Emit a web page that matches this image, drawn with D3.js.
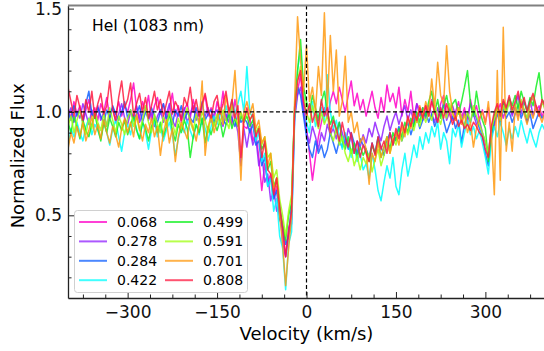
<!DOCTYPE html>
<html>
<head>
<meta charset="utf-8">
<script src="https://cdn.jsdelivr.net/npm/d3@7"></script>
<style>
  body { margin: 0; background: #fff; }
  svg { display: block; font-family: "DejaVu Sans", sans-serif; }
</style>
</head>
<body>
<svg id="chart"></svg>
<script>
// velocity grid of the spectra, km/s
const velocity = d3.range(-400, 401, 5);

const phases = ["0.068", "0.278", "0.284", "0.422", "0.499", "0.591", "0.701", "0.808"];
const colours = ["#ff00c8", "#9020ff", "#1060ff", "#00ffff", "#10f020", "#a0ff10", "#ff9a10", "#ff1a40"];

const xTicks = [-300, -150, 0, 150, 300];
const xMinor = [-375, -337.5, -262.5, -225, -187.5, -112.5, -75, -37.5, 37.5, 75, 112.5, 187.5, 225, 262.5, 337.5, 375];
const yTicks = [0.5, 1.0, 1.5];
const yMinor = [0.2, 0.3, 0.4, 0.6, 0.7, 0.8, 0.9, 1.1, 1.2, 1.3, 1.4];

const flux068 = [
  1.02, 0.97, 1.05, 0.99, 1.03, 0.95, 1.01, 1.06, 0.98, 1.02,
  0.96, 1.04, 1.00, 1.07, 0.97, 1.02, 0.99, 1.05, 0.98, 1.03,
  1.00, 1.06, 1.14, 1.02, 0.97, 1.05, 1.00, 1.08, 0.96, 1.03,
  1.07, 0.99, 1.04, 0.96, 1.02, 1.09, 0.98, 1.03, 0.95, 1.01,
  1.04, 0.97, 1.06, 1.00, 0.95, 1.03, 1.08, 0.98, 1.02, 0.96,
  1.05, 0.99, 1.10, 0.96, 1.02, 0.94, 1.06, 0.98, 1.00, 0.93,
  0.92, 0.97, 0.86, 0.90, 0.78, 0.62, 0.75, 0.66, 0.70, 0.58,
  0.64, 0.50, 0.42, 0.30, 0.44, 0.48, 0.98, 1.10, 1.18, 1.02,
  0.92, 0.80, 0.67, 0.78, 0.88, 0.95, 1.02, 0.97, 1.05, 1.10,
  1.04, 1.12, 1.06, 1.00, 1.08, 1.15, 1.03, 1.09, 1.01, 1.06,
  0.98, 1.04, 1.10, 1.02, 0.97, 1.07, 1.00, 1.13, 1.05, 1.09,
  1.02, 1.12, 0.98, 1.06, 1.00, 1.10, 0.97, 1.04, 1.01, 0.96,
  1.03, 0.98, 1.06, 1.00, 0.95, 1.04, 1.08, 0.99, 1.02, 0.96,
  1.00, 1.05, 0.97, 1.02, 0.94, 1.06, 0.99, 1.03, 0.96, 1.01,
  0.95, 1.02, 0.88, 0.93, 1.00, 1.04, 0.97, 1.02, 1.06, 0.99,
  1.03, 0.98, 1.05, 1.01, 0.96, 1.04, 1.07, 1.00, 1.03, 0.98,
  1.01
];
const flux278 = [
  0.98, 1.02, 0.95, 1.00, 0.97, 1.04, 0.99, 0.94, 1.01, 0.97,
  1.03, 0.96, 1.00, 0.93, 0.98, 1.02, 0.95, 0.99, 1.04, 0.97,
  0.94, 1.00, 0.97, 1.03, 0.95, 0.99, 1.02, 0.96, 1.00, 0.93,
  0.98, 1.01, 0.95, 0.99, 1.04, 0.96, 0.93, 1.00, 0.97, 1.02,
  0.95, 0.99, 1.03, 0.96, 1.00, 0.94, 0.98, 1.02, 0.95, 0.99,
  1.01, 0.96, 0.93, 0.99, 0.95, 1.02, 0.97, 0.90, 0.74, 0.92,
  0.83, 0.92, 0.84, 0.88, 0.74, 0.80, 0.66, 0.70, 0.57, 0.63,
  0.52, 0.56, 0.36, 0.30, 0.40, 0.46, 0.96, 1.08, 1.12, 1.00,
  0.90, 0.85, 0.93, 0.88, 0.82, 0.90, 0.86, 0.94, 0.89, 0.92,
  0.87, 0.95, 0.90, 0.84, 0.92, 0.88, 0.80, 0.86, 0.83, 0.89,
  0.85, 0.92, 0.88, 0.95, 0.90, 0.86, 0.93, 0.98, 0.91, 0.96,
  1.00, 0.94, 0.99, 1.03, 0.96, 1.01, 0.95, 1.04, 0.98, 1.02,
  0.97, 1.03, 0.99, 0.95, 1.02, 0.98, 1.05, 0.96, 1.00, 1.03,
  0.98, 1.02, 0.95, 1.00, 0.97, 1.04, 0.99, 0.94, 0.96, 0.90,
  0.85, 0.80, 0.92, 0.98, 1.02, 0.96, 1.04, 1.00, 1.06, 0.98,
  1.03, 1.08, 0.99, 1.05, 1.01, 1.06, 0.98, 1.03, 1.00, 1.05,
  1.02
];
const flux284 = [
  1.00, 0.96, 1.03, 0.98, 1.01, 0.95, 1.04, 1.10, 0.99, 0.97,
  1.02, 0.98, 0.95, 1.01, 0.97, 1.03, 0.99, 0.96, 1.00, 1.05,
  0.97, 1.01, 0.96, 0.99, 1.03, 0.95, 1.00, 0.97, 1.02, 0.98,
  0.95, 1.00, 1.04, 0.97, 0.99, 0.94, 1.01, 0.98, 1.03, 0.96,
  1.00, 0.97, 0.95, 1.02, 0.98, 1.05, 0.96, 0.99, 1.01, 0.95,
  0.98, 1.02, 0.96, 0.94, 1.00, 0.97, 0.93, 0.99, 0.95, 0.97,
  0.95, 0.90, 0.94, 0.84, 0.86, 0.74, 0.78, 0.64, 0.68, 0.58,
  0.62, 0.48, 0.44, 0.36, 0.40, 0.56, 1.00, 1.12, 1.08, 0.98,
  0.88, 0.82, 0.78, 0.86, 0.80, 0.84, 0.78, 0.82, 0.90, 0.85,
  0.80, 0.86, 0.83, 0.88, 0.82, 0.90, 0.85, 0.80, 0.87, 0.84,
  0.82, 0.78, 0.85, 0.80, 0.88, 0.83, 0.79, 0.86, 0.90, 0.84,
  0.88, 0.93, 0.86, 0.91, 0.95, 0.89, 0.94, 0.98, 0.92, 0.96,
  1.00, 0.95, 0.99, 0.93, 0.97, 1.01, 0.96, 0.90, 0.94, 0.98,
  0.92, 0.96, 0.85, 0.94, 0.99, 0.95, 1.01, 0.97, 0.92, 0.88,
  0.80, 0.74, 0.88, 0.95, 0.99, 0.94, 1.02, 0.97, 1.00, 0.95,
  0.99, 1.03, 0.97, 1.01, 0.95, 0.99, 0.92, 0.96, 1.00, 0.97,
  0.99
];
const flux422 = [
  0.83, 0.92, 0.88, 0.95, 0.90, 0.86, 0.93, 0.97, 0.89, 0.94,
  0.91, 0.87, 0.95, 0.90, 0.84, 0.92, 0.96, 0.88, 0.81, 0.90,
  0.94, 0.89, 0.97, 0.92, 0.87, 0.95, 0.90, 0.82, 0.91, 0.96,
  0.88, 0.93, 0.86, 0.91, 0.95, 0.89, 0.79, 0.87, 0.93, 0.90,
  0.96, 0.91, 0.87, 0.94, 0.89, 0.97, 0.92, 0.86, 0.93, 0.98,
  0.94, 1.00, 0.95, 1.03, 0.98, 1.06, 0.99, 1.04, 1.10, 1.00,
  1.22, 1.00, 0.97, 0.86, 0.90, 0.76, 0.80, 0.64, 0.68, 0.52,
  0.58, 0.40, 0.34, 0.14, 0.36, 0.42, 0.95, 1.20, 1.30, 1.10,
  0.95, 0.90, 1.05, 0.93, 0.98, 1.02, 0.95, 1.18, 1.00, 0.92,
  0.96, 0.88, 0.82, 0.90, 0.85, 0.78, 0.84, 0.76, 0.80, 0.72,
  0.75, 0.68, 0.80, 0.72, 0.62, 0.57, 0.66, 0.74, 0.68, 0.78,
  0.64, 0.60, 0.72, 0.80, 0.69, 0.76, 0.84, 0.78, 0.88, 0.82,
  0.90, 0.85, 0.93, 0.88, 0.95, 0.82, 0.90, 0.86, 0.75, 0.92,
  0.88, 0.94, 0.83, 0.90, 0.96, 0.89, 0.93, 0.87, 0.91, 0.85,
  0.78, 0.70, 0.86, 0.93, 0.88, 0.95, 0.90, 0.84, 0.92, 0.87,
  0.93, 0.88, 0.96, 0.90, 0.85, 0.92, 0.87, 0.83, 0.90, 0.94,
  0.91
];
const flux499 = [
  0.95, 0.90, 0.98, 0.93, 0.87, 0.96, 0.91, 0.88, 0.94, 0.99,
  0.92, 0.86, 0.95, 0.90, 0.97, 0.93, 0.88, 0.95, 0.91, 0.96,
  0.89, 0.94, 0.98, 0.91, 0.87, 0.95, 0.92, 0.86, 0.93, 0.97,
  0.90, 0.95, 0.88, 0.93, 0.99, 0.91, 0.86, 0.94, 0.90, 0.96,
  0.92, 0.78, 0.88, 0.94, 0.90, 0.97, 0.85, 0.93, 0.89, 0.95,
  0.91, 0.96, 0.88, 0.94, 0.99, 0.92, 0.97, 0.93, 0.98, 0.95,
  0.98, 0.93, 0.96, 0.90, 0.92, 0.82, 0.85, 0.72, 0.76, 0.64,
  0.68, 0.54, 0.46, 0.38, 0.50, 0.56, 1.02, 1.20, 1.35, 1.12,
  1.05, 1.00, 1.08, 1.02, 0.96, 1.05, 1.10, 1.00, 0.94, 0.98,
  0.90, 0.95, 0.86, 0.82, 0.88, 0.80, 0.85, 0.78, 0.83, 0.79,
  0.82, 0.76, 0.84, 0.80, 0.87, 0.78, 0.83, 0.88, 0.82, 0.90,
  0.86, 0.92, 0.88, 0.95, 0.90, 0.97, 0.93, 1.00, 0.95, 1.02,
  0.98, 1.05, 1.10, 1.00, 1.06, 0.97, 1.03, 1.08, 1.00, 1.04,
  1.06, 0.99, 1.05, 1.12, 1.20, 1.04, 0.98, 1.10, 1.01, 0.96,
  0.92, 0.76, 0.90, 0.98, 1.03, 0.99, 1.05, 1.01, 1.07, 1.03,
  1.08, 1.02, 1.10, 1.05, 1.00, 1.07, 1.03, 1.12, 1.19, 1.06,
  1.04
];
const flux591 = [
  0.93, 0.98, 0.90, 0.96, 1.01, 0.94, 0.89, 0.97, 0.92, 1.00,
  0.95, 0.91, 0.99, 0.93, 1.02, 0.96, 0.90, 0.98, 0.94, 0.89,
  0.97, 1.01, 0.93, 0.98, 0.91, 0.96, 1.03, 0.95, 0.90, 0.99,
  0.94, 0.90, 0.98, 0.93, 1.00, 0.95, 0.89, 0.97, 0.92, 0.98,
  1.02, 0.95, 0.91, 0.99, 0.94, 1.00, 0.96, 0.90, 0.98, 0.93,
  0.99, 0.94, 1.01, 0.96, 0.92, 1.03, 0.97, 0.94, 1.00, 0.95,
  1.00, 0.96, 0.99, 0.90, 0.93, 0.84, 0.88, 0.78, 0.80, 0.68,
  0.72, 0.58, 0.50, 0.40, 0.52, 0.60, 1.00, 1.15, 1.22, 1.08,
  1.00, 0.95, 1.03, 0.97, 0.92, 1.00, 0.94, 0.98, 0.90, 0.86,
  0.92, 0.84, 0.88, 0.80, 0.76, 0.82, 0.74, 0.79, 0.72, 0.78,
  0.75, 0.80, 0.71, 0.77, 0.82, 0.74, 0.79, 0.85, 0.80, 0.87,
  0.84, 0.90, 0.86, 0.93, 0.89, 0.95, 0.91, 0.97, 0.93, 0.99,
  0.95, 1.00, 0.96, 1.03, 0.98, 0.94, 1.01, 0.97, 1.04, 0.99,
  0.96, 1.02, 0.97, 0.93, 1.00, 0.95, 1.03, 0.98, 0.94, 0.90,
  0.86, 0.80, 0.92, 0.97, 1.01, 0.96, 1.03, 0.99, 1.05, 1.00,
  1.04, 0.99, 1.06, 1.01, 0.97, 1.04, 1.08, 1.02, 0.98, 1.05,
  1.01
];
const flux701 = [
  0.82, 0.90, 0.85, 0.93, 0.88, 0.95, 0.86, 0.91, 0.98, 0.89,
  0.94, 0.87, 0.96, 0.90, 0.85, 0.93, 0.89, 0.83, 0.92, 0.97,
  0.90, 0.95, 0.88, 0.99, 0.92, 0.86, 0.94, 0.90, 0.97, 0.88,
  0.93, 0.79, 0.90, 0.96, 0.85, 0.92, 0.76, 0.88, 0.95, 0.91,
  0.87, 0.97, 0.92, 0.86, 0.95, 1.15, 0.79, 0.93, 0.98, 0.90,
  0.96, 1.02, 0.94, 1.08, 0.99, 1.04, 1.20, 0.96, 0.67, 1.00,
  1.05, 0.99, 1.04, 0.92, 0.96, 0.85, 0.88, 0.74, 0.80, 0.62,
  0.68, 0.50, 0.36, 0.16, 0.34, 0.50, 1.05, 1.46, 1.25, 1.10,
  1.32, 1.05, 1.12, 1.00, 1.22, 1.08, 1.48, 1.02, 1.37, 1.10,
  1.30, 0.98, 1.05, 1.27, 0.95, 1.00, 0.90, 0.95, 0.85, 0.88,
  0.82, 0.65, 0.80, 0.76, 0.85, 0.78, 0.83, 0.88, 0.80, 0.86,
  0.90, 0.84, 0.93, 0.88, 0.97, 0.92, 1.00, 0.95, 1.03, 0.98,
  1.05, 1.00, 1.16, 1.02, 1.24, 1.08, 1.04, 1.32, 1.10, 1.00,
  0.96, 1.02, 0.94, 0.99, 0.90, 0.95, 0.83, 0.92, 0.97, 1.00,
  0.94, 1.05, 0.90, 0.60, 1.20, 0.67, 1.41, 0.81, 0.95, 0.81,
  1.02, 0.96, 1.04, 0.99, 0.94, 1.01, 0.97, 1.03, 0.99, 0.95,
  1.00
];
const flux808 = [
  1.12, 1.05, 0.98, 1.08, 1.02, 0.96, 1.06, 1.00, 1.10, 0.97,
  1.04, 1.09, 0.99, 1.03, 1.15, 1.01, 0.96, 1.07, 1.15, 1.02,
  1.06, 1.14, 0.98, 1.04, 1.09, 1.00, 1.07, 0.97, 1.03, 1.10,
  1.01, 1.06, 0.98, 1.04, 1.10, 0.99, 1.05, 1.02, 0.96, 1.07,
  1.03, 1.12, 1.00, 1.06, 0.98, 1.04, 1.09, 1.01, 0.97, 1.05,
  1.08, 0.99, 1.04, 1.10, 1.00, 1.06, 0.97, 1.03, 0.78, 0.96,
  1.02, 0.96, 0.99, 0.88, 0.92, 0.78, 0.86, 0.72, 0.70, 0.60,
  0.68, 0.54, 0.44, 0.30, 0.42, 0.52, 1.00, 1.15, 1.20, 1.05,
  0.98, 1.04, 0.95, 1.00, 0.93, 1.06, 0.98, 1.02, 0.90, 0.96,
  0.92, 0.86, 0.95, 0.88, 0.83, 0.90, 0.80, 0.86, 0.78, 0.84,
  0.80, 0.76, 0.85, 0.79, 0.88, 0.82, 0.86, 0.80, 0.90, 0.84,
  0.92, 0.87, 0.95, 0.90, 0.98, 0.93, 1.00, 0.96, 1.02, 0.97,
  1.03, 0.98, 1.05, 1.00, 0.95, 1.02, 0.97, 1.04, 0.99, 0.94,
  0.98, 0.93, 0.96, 0.92, 0.94, 0.91, 0.95, 0.93, 0.90, 0.88,
  0.82, 0.78, 0.93, 1.00, 1.04, 0.98, 1.06, 1.02, 1.08, 1.01,
  1.05, 1.10, 1.02, 1.07, 1.00, 1.05, 1.09, 1.03, 0.98, 1.06,
  1.03
];

const fluxes = [flux068, flux278, flux284, flux422, flux499, flux591, flux701, flux808];

const width = 544, height = 351;
const margin = {top: 5.5, right: -1, bottom: 53, left: 68};

const svg = d3.select("#chart")
    .attr("width", width)
    .attr("height", height);

const x = d3.scaleLinear()
    .domain([-400, 400])
    .range([margin.left, width - margin.right]);

const y = d3.scaleLinear()
    .domain([0.1, 1.515])
    .range([height - margin.bottom, margin.top]);

const plot = svg.append("g");

plot.append("clipPath").attr("id", "clip")
    .append("rect")
    .attr("x", margin.left).attr("y", margin.top)
    .attr("width", x(400) - margin.left)
    .attr("height", y(0.1) - margin.top);

const line = d3.line()
    .x((d, i) => x(velocity[i]))
    .y((d) => y(d));

plot.append("g")
    .attr("clip-path", "url(#clip)")
    .selectAll(".spec")
    .data(fluxes)
    .enter().append("path")
    .attr("class", "spec")
    .attr("d", line)
    .style("fill", "none")
    .style("stroke", (d, i) => colours[i])
    .style("stroke-width", 1.5)
    .style("stroke-opacity", 0.85)
    .style("stroke-linejoin", "round");

// reference lines
plot.append("line")
    .attr("x1", x(-400)).attr("x2", x(400))
    .attr("y1", y(1)).attr("y2", y(1))
    .style("stroke", "black").style("stroke-width", 1.2)
    .style("stroke-dasharray", "4,2.5");

plot.append("line")
    .attr("x1", x(0)).attr("x2", x(0))
    .attr("y1", y(1.515)).attr("y2", y(0.1))
    .style("stroke", "black").style("stroke-width", 1.2)
    .style("stroke-dasharray", "4,2.5");

// axes, ticks inward
svg.append("g")
    .attr("transform", `translate(0, ${y(0.1)})`)
    .call(d3.axisBottom(x).tickValues(xTicks).tickSize(-6).tickSizeOuter(0).tickPadding(8)
        .tickFormat((d) => d < 0 ? "\u2212" + Math.abs(d) : d));

svg.append("g")
    .attr("transform", `translate(0, ${y(0.1)})`)
    .call(d3.axisBottom(x).tickValues(xMinor).tickSize(-3.5).tickFormat(""))
    .call((g) => g.select(".domain").remove());

svg.append("g")
    .attr("transform", `translate(${margin.left}, 0)`)
    .call(d3.axisLeft(y).tickValues(yTicks).tickSize(-6).tickSizeOuter(0).tickPadding(6)
        .tickFormat(d3.format(".1f")));

svg.append("g")
    .attr("transform", `translate(${margin.left}, 0)`)
    .call(d3.axisLeft(y).tickValues(yMinor).tickSize(-3.5).tickFormat(""))
    .call((g) => g.select(".domain").remove());

svg.selectAll(".tick line").style("stroke", "#222").style("stroke-width", 1);
svg.selectAll(".domain").style("stroke", "#222").style("stroke-width", 1.3);
svg.selectAll(".tick text").style("font-size", "17px").style("fill", "#111")
    .style("font-family", "DejaVu Sans");

// top spine
svg.append("line")
    .attr("x1", margin.left).attr("x2", width)
    .attr("y1", margin.top).attr("y2", margin.top)
    .style("stroke", "#808080").style("stroke-width", 2);

// labels
svg.append("text")
    .attr("x", x(0)).attr("y", 340)
    .attr("text-anchor", "middle")
    .style("font-size", "18px")
    .text("Velocity (km/s)");

svg.append("text")
    .attr("transform", `translate(24, ${(y(0.1) + margin.top) / 2 + 4}) rotate(-90)`)
    .attr("text-anchor", "middle")
    .style("font-size", "18px")
    .text("Normalized Flux");

svg.append("text")
    .attr("x", 92).attr("y", 31)
    .style("font-size", "15.5px")
    .text("HeI (1083 nm)");

// legend
const legend = svg.append("g");
legend.append("rect")
    .attr("x", 74.5).attr("y", 210.5)
    .attr("width", 173).attr("height", 82)
    .attr("rx", 3)
    .style("fill", "white").style("fill-opacity", 0.8)
    .style("stroke", "#d0d0d0").style("stroke-width", 1);

const entries = legend.selectAll(".entry")
    .data(phases)
    .enter().append("g")
    .attr("class", "entry")
    .attr("transform", (d, i) => `translate(${i < 4 ? 79 : 165}, ${222 + (i % 4) * 19.4})`);

entries.append("line")
    .attr("x1", 0).attr("x2", 28)
    .style("stroke", (d, i) => colours[i])
    .style("stroke-width", 2)
    .style("stroke-opacity", 0.75);

entries.append("text")
    .attr("x", 38).attr("dy", "0.36em")
    .style("font-size", "14px")
    .text((d) => d);
</script>
</body>
</html>
